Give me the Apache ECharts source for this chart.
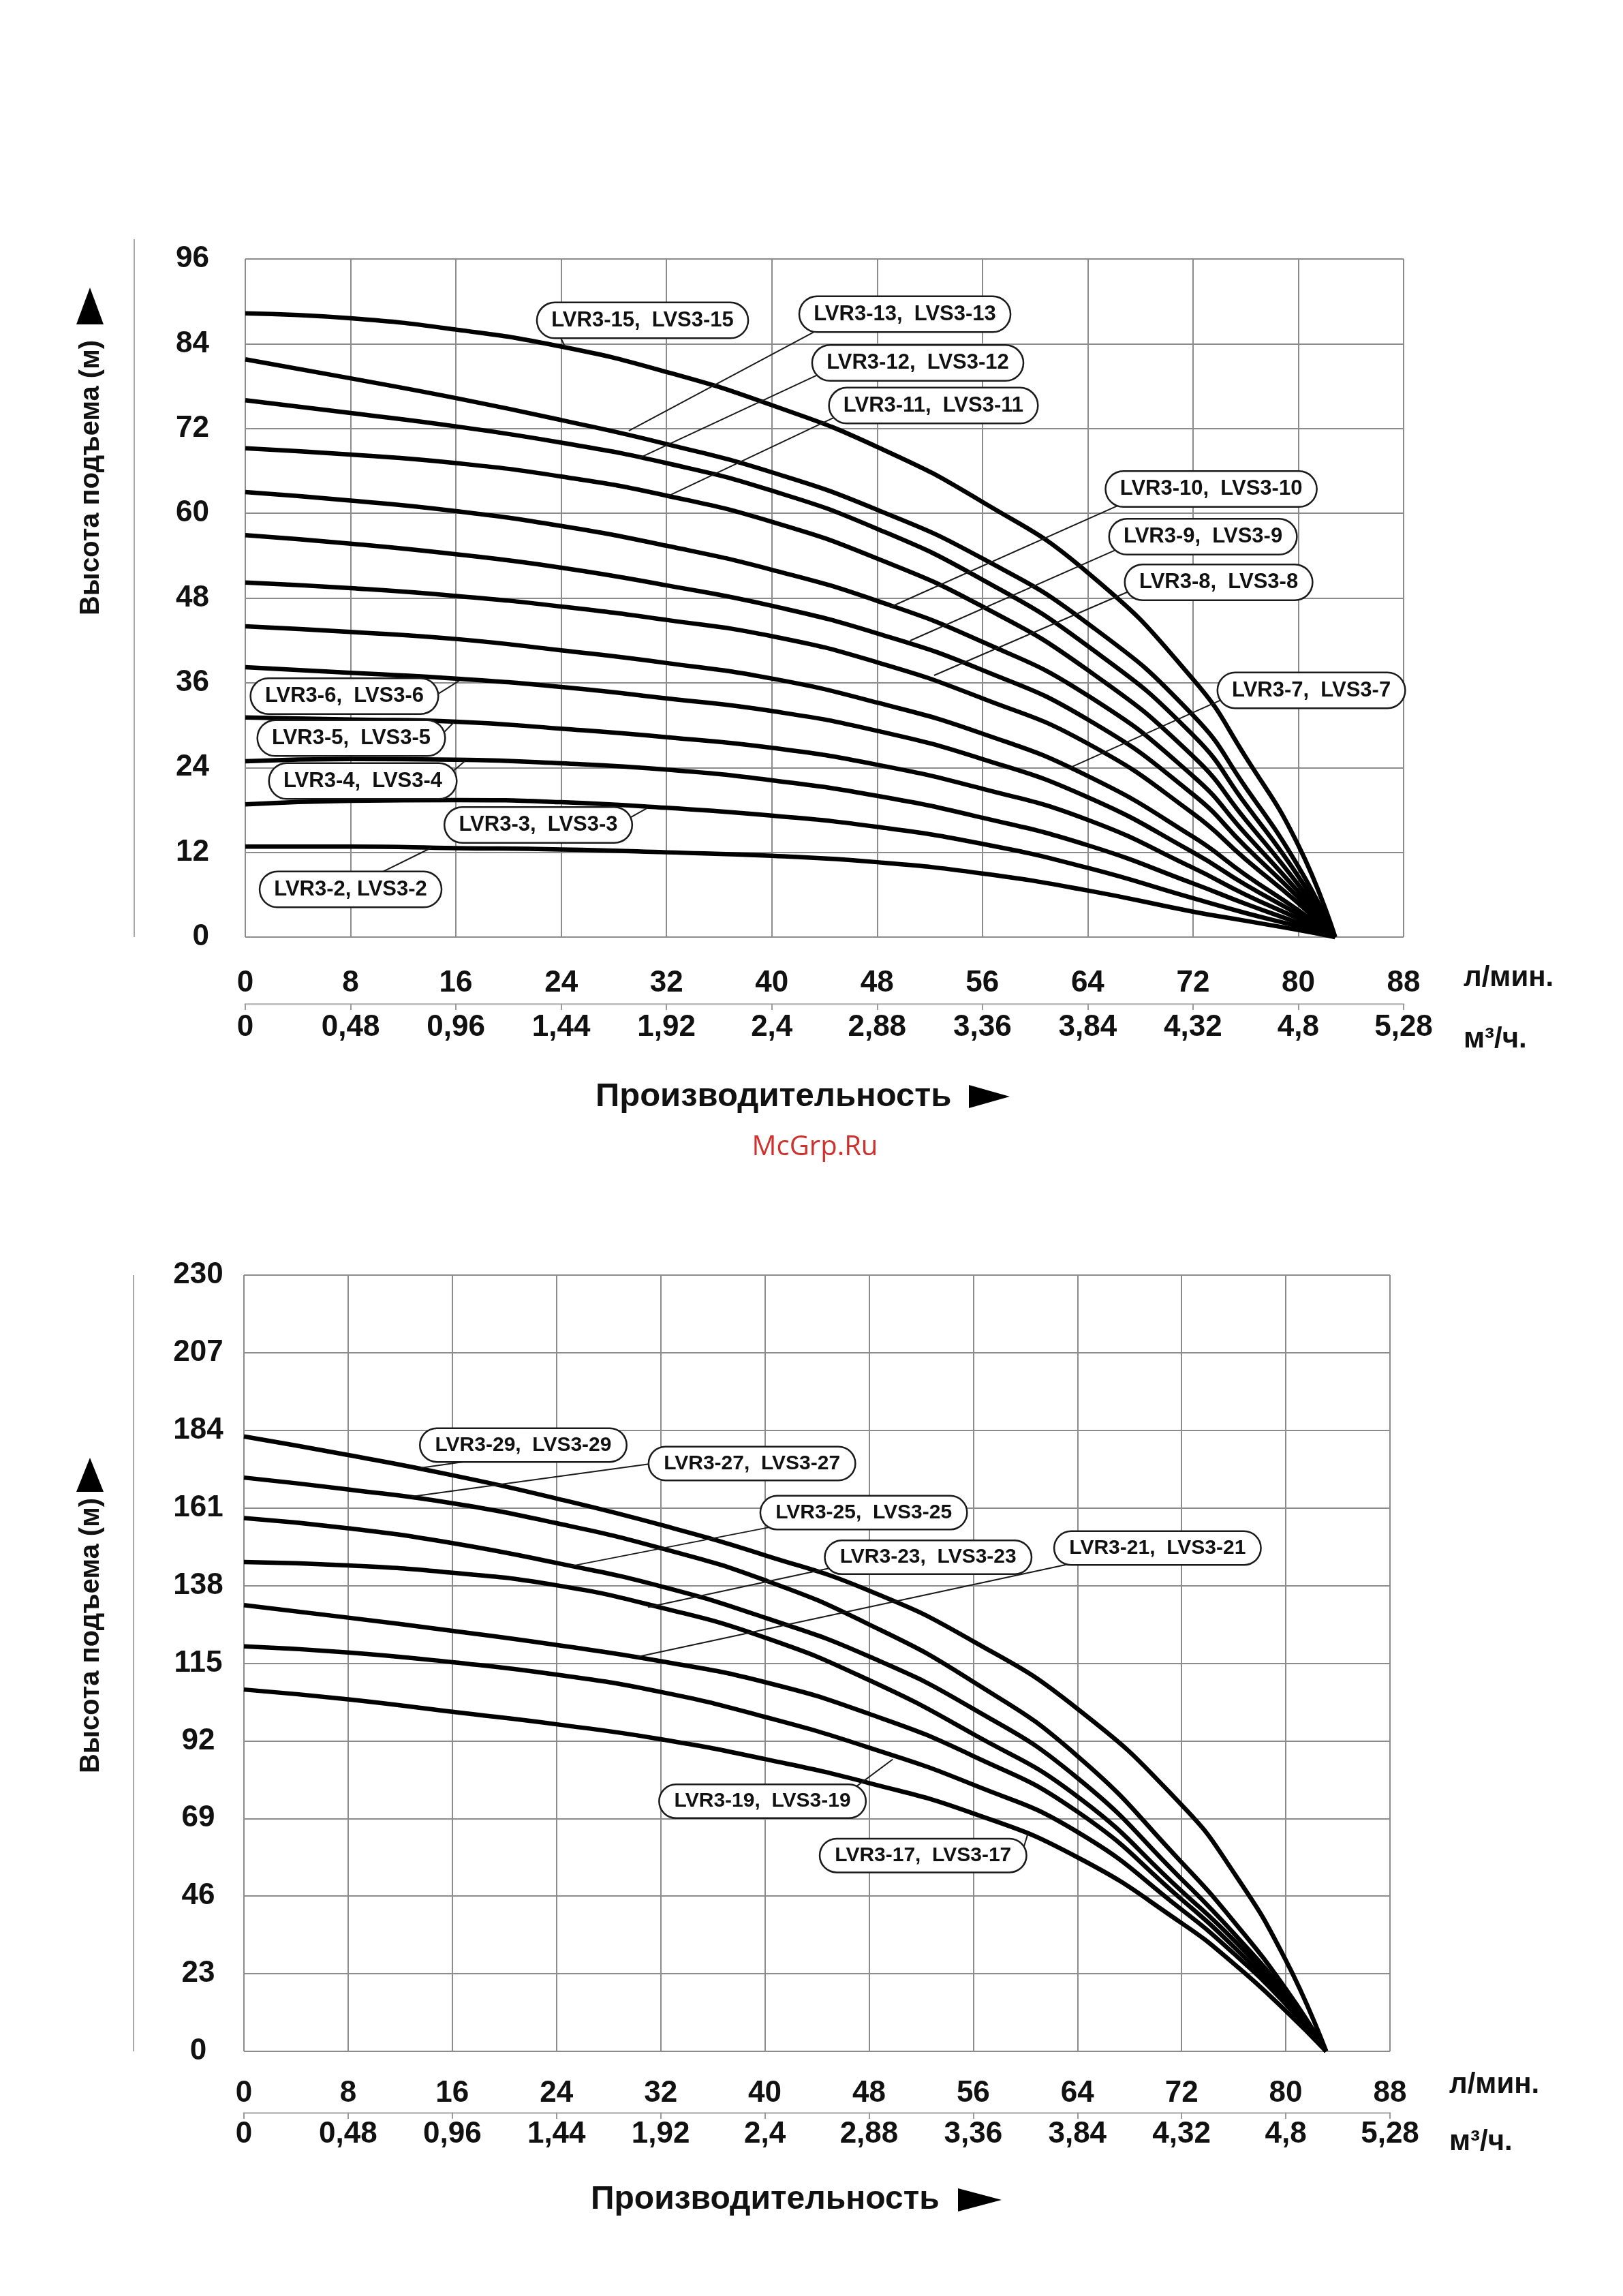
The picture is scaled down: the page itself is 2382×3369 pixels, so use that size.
<!DOCTYPE html>
<html><head><meta charset="utf-8">
<script src="https://cdn.jsdelivr.net/npm/echarts@6/dist/echarts.min.js"></script>
<style>html,body{margin:0;padding:0;background:#fff}#c{width:2382px;height:3369px}</style>
</head><body><div id="c"></div>
<script>
const FONT = '"Liberation Sans", Arial, Helvetica, sans-serif';

// ---------- tick labels ----------
const X_TICKS_LMIN = [0, 8, 16, 24, 32, 40, 48, 56, 64, 72, 80, 88];
const X_TICKS_M3H = ['0', '0,48', '0,96', '1,44', '1,92', '2,4', '2,88', '3,36', '3,84', '4,32', '4,8', '5,28'];
const Y_TICKS_TOP = [0, 12, 24, 36, 48, 60, 72, 84, 96];
const Y_TICKS_BOT = [0, 23, 46, 69, 92, 115, 138, 161, 184, 207, 230];

// ---------- top chart data (Q l/min -> H m) ----------
const Q_TOP = [0, 8, 16, 24, 32, 40, 48, 56, 64, 72, 76, 80, 82.8];
const H_3_2  = [12.8, 12.8, 12.6, 12.4, 12.0, 11.5, 10.6, 9.0, 6.6, 3.6, 2.3, 1.0, 0];
const H_3_3  = [18.8, 19.3, 19.4, 19.1, 18.3, 17.2, 15.6, 13.2, 9.8, 5.5, 3.4, 1.5, 0];
const H_3_4  = [24.9, 25.2, 25.1, 24.6, 23.7, 22.2, 20.0, 16.9, 13.0, 7.6, 4.7, 2.0, 0];
const H_3_5  = [31.1, 30.8, 30.5, 29.5, 28.3, 26.8, 24.4, 21.0, 16.6, 9.8, 6.0, 2.6, 0];
const H_3_6  = [38.2, 37.4, 36.6, 35.4, 33.8, 32.0, 29.2, 25.2, 19.8, 12.0, 7.4, 3.2, 0];
const H_3_7  = [44.0, 43.2, 42.2, 40.6, 38.8, 36.6, 33.2, 28.8, 22.8, 14.2, 8.8, 3.8, 0];
const H_3_8  = [50.2, 49.4, 48.3, 46.8, 44.9, 42.6, 38.9, 33.8, 27.4, 17.5, 11.0, 4.8, 0];
const H_3_9  = [56.9, 55.7, 54.2, 52.3, 49.8, 46.9, 43.0, 37.8, 30.8, 20.2, 12.8, 5.6, 0];
const H_3_10 = [63.0, 61.8, 60.3, 58.2, 55.4, 52.0, 47.6, 41.8, 34.2, 22.8, 14.6, 6.4, 0];
const H_3_11 = [69.2, 68.3, 67.1, 65.2, 62.5, 58.8, 53.6, 46.8, 37.8, 25.6, 16.6, 7.4, 0];
const H_3_12 = [76.0, 74.2, 72.3, 70.0, 67.1, 63.2, 57.8, 50.6, 41.2, 28.6, 18.8, 8.6, 0];
const H_3_13 = [81.8, 79.1, 76.3, 73.2, 69.8, 65.8, 60.5, 53.6, 44.4, 31.4, 21.2, 10.0, 0];
const H_3_15 = [88.3, 87.6, 86.0, 83.6, 80.0, 75.3, 69.4, 61.6, 51.6, 36.5, 25.5, 13.0, 0];
const TOP_CURVES = [H_3_2, H_3_3, H_3_4, H_3_5, H_3_6, H_3_7, H_3_8, H_3_9, H_3_10, H_3_11, H_3_12, H_3_13, H_3_15];

// ---------- bottom chart data ----------
const Q_BOT = [0, 8, 16, 24, 32, 40, 48, 56, 64, 72, 76, 80, 83.1];
const H_3_17 = [107.2, 104.3, 100.6, 96.9, 92.5, 86.6, 79.5, 70.5, 57.5, 38.0, 26.0, 12.0, 0];
const H_3_19 = [120.0, 118.2, 115.3, 111.6, 106.5, 99.1, 90.0, 79.0, 65.0, 42.0, 29.0, 14.0, 0];
const H_3_21 = [132.2, 128.5, 124.6, 120.4, 115.6, 109.4, 100.0, 87.5, 71.0, 45.0, 31.0, 15.0, 0];
const H_3_23 = [145.0, 144.0, 141.8, 138.1, 131.5, 122.6, 110.0, 94.0, 75.5, 47.5, 33.0, 16.0, 0];
const H_3_25 = [158.0, 155.0, 150.6, 144.7, 137.8, 128.5, 117.0, 101.5, 81.0, 51.0, 35.0, 17.0, 0];
const H_3_27 = [170.0, 166.5, 162.4, 156.5, 149.1, 139.6, 126.5, 109.5, 87.5, 56.0, 38.5, 18.5, 0];
const H_3_29 = [182.2, 176.7, 170.7, 163.8, 156.0, 147.0, 136.5, 121.5, 101.5, 73.0, 53.0, 27.0, 0];
const BOT_CURVES = [H_3_17, H_3_19, H_3_21, H_3_23, H_3_25, H_3_27, H_3_29];

// ---------- callout labels: text, box centre, box-edge point, curve point (data coords) ----------
const TOP_LABELS = [
  ['LVR3-15,  LVS3-15', [30.18, 87.31], [23.97, 84.80], [24.28, 83.65]],
  ['LVR3-13,  LVS3-13', [50.11, 88.18], [43.22, 85.67], [29.14, 71.68]],
  ['LVR3-12,  LVS3-12', [51.09, 81.28], [43.38, 79.50], [29.92, 67.82]],
  ['LVR3-11,  LVS3-11', [52.28, 75.25], [44.57, 73.42], [32.09, 62.42]],
  ['LVR3-10,  LVS3-10', [73.38, 63.43], [66.16, 60.97], [48.97, 46.70]],
  ['LVR3-9,  LVS3-9',   [72.76, 56.68], [66.00, 54.70], [50.52, 41.97]],
  ['LVR3-8,  LVS3-8',   [73.95, 50.22], [66.98, 48.82], [52.33, 37.05]],
  ['LVR3-7,  LVS3-7',   [80.99, 34.93], [74.13, 33.57], [62.69, 24.02]],
  ['LVR3-6,  LVS3-6',   [7.53, 34.11],  [14.75, 34.54], [16.25, 36.28]],
  ['LVR3-5,  LVS3-5',   [8.05, 28.17],  [15.22, 29.23], [15.84, 30.39]],
  ['LVR3-4,  LVS3-4',   [8.93, 22.09],  [16.00, 23.83], [16.67, 24.89]],
  ['LVR3-3,  LVS3-3',   [22.26, 15.87], [29.30, 16.98], [30.59, 18.33]],
  ['LVR3-2, LVS3-2',    [8.00, 6.75],   [10.46, 9.26],  [14.13, 12.64]]
];
const BOT_LABELS = [
  ['LVR3-29,  LVS3-29', [21.45, 179.64], [17.22, 174.89], [13.55, 172.87]],
  ['LVR3-27,  LVS3-27', [39.01, 174.18], [31.03, 173.98], [12.87, 164.38]],
  ['LVR3-25,  LVS3-25', [47.59, 159.62], [40.08, 155.07], [25.07, 143.75]],
  ['LVR3-23,  LVS3-23', [52.54, 146.38], [44.69, 142.94], [31.03, 131.60]],
  ['LVR3-21,  LVS3-21', [70.15, 149.11], [63.06, 144.16], [30.19, 116.86]],
  ['LVR3-19,  LVS3-19', [39.82, 74.10],  [47.15, 78.85],  [49.82, 86.53]],
  ['LVR3-17,  LVS3-17', [52.15, 58.03],  [60.02, 62.27],  [60.18, 64.29]]
];

const chart = echarts.init(document.getElementById('c'), null, {renderer: 'canvas', width: 2382, height: 3369});

const GRID_LINE = {show: true, lineStyle: {color: '#8c8c8c', width: 2}};
const TICK_FONT = {fontSize: 44, fontWeight: 'bold', color: '#111', fontFamily: FONT, showMinLabel: true, showMaxLabel: true};

function xAxes(gi, m1, off, m2) {
  return [
    {gridIndex: gi, type: 'value', min: X_TICKS_LMIN[0], max: X_TICKS_LMIN[X_TICKS_LMIN.length - 1], interval: 8,
     position: 'bottom', axisLine: {show: false}, axisTick: {show: false}, splitLine: GRID_LINE,
     axisLabel: Object.assign({margin: m1, formatter: v => String(v)}, TICK_FONT)},
    {gridIndex: gi, type: 'value', min: X_TICKS_LMIN[0], max: X_TICKS_LMIN[X_TICKS_LMIN.length - 1], interval: 8,
     position: 'bottom', offset: off,
     axisLine: {show: true, lineStyle: {color: '#c4c4c4', width: 3}},
     axisTick: {show: true, length: 9, lineStyle: {color: '#9a9a9a', width: 2}},
     splitLine: {show: false},
     axisLabel: Object.assign({margin: m2, formatter: v => X_TICKS_M3H[Math.round(v / 8)]}, TICK_FONT)}
  ];
}

const base = {
  animation: false,
  backgroundColor: '#fff',
  grid: [
    {left: 360, top: 380, width: 1700, height: 995},
    {left: 358, top: 1871, width: 1682, height: 1139}
  ],
  xAxis: [].concat(xAxes(0, 46, 98, 13), xAxes(1, 40, 90, 10)),
  yAxis: [
    {gridIndex: 0, type: 'value', min: Y_TICKS_TOP[0], max: Y_TICKS_TOP[Y_TICKS_TOP.length - 1], interval: 12,
     axisLine: {show: false}, axisTick: {show: false}, splitLine: GRID_LINE,
     axisLabel: Object.assign({margin: 53}, TICK_FONT)},
    {gridIndex: 1, type: 'value', min: Y_TICKS_BOT[0], max: Y_TICKS_BOT[Y_TICKS_BOT.length - 1], interval: 23,
     axisLine: {show: false}, axisTick: {show: false}, splitLine: GRID_LINE,
     axisLabel: Object.assign({margin: 67, align: 'center'}, TICK_FONT)}
  ],
  series: []
};
chart.setOption(base);

function curveSeries(qs, hs, xi, yi) {
  return {type: 'line', xAxisIndex: xi, yAxisIndex: yi, data: qs.map((q, i) => [q, hs[i]]),
    showSymbol: false, symbol: 'none', smooth: 0.5, clip: false,
    lineStyle: {color: '#000', width: 6.5, join: 'round'}, z: 2, silent: true};
}

function leaderSeries(labels, gi, xi, yi) {
  const data = labels.map(l => {
    const c = chart.convertToPixel({gridIndex: gi}, l[3]);
    const e = chart.convertToPixel({gridIndex: gi}, l[2]);
    const dx = e[0] - c[0], dy = e[1] - c[1], len = Math.hypot(dx, dy) || 1;
    const ext = chart.convertFromPixel({gridIndex: gi}, [e[0] + dx / len * 14, e[1] + dy / len * 14]);
    return [{coord: l[3]}, {coord: ext}];
  });
  return {type: 'line', xAxisIndex: xi, yAxisIndex: yi, data: [], z: 3, silent: true,
    markLine: {silent: true, symbol: ['none', 'none'], animation: false, label: {show: false},
      lineStyle: {color: '#1a1a1a', width: 2, type: 'solid'}, emphasis: {disabled: true}, data: data}};
}

function boxSeries(labels, xi, yi, fs, pad) {
  return {type: 'line', xAxisIndex: xi, yAxisIndex: yi, data: [], z: 5, silent: true,
    markPoint: {silent: true, symbol: 'rect', symbolSize: 1, itemStyle: {color: 'rgba(0,0,0,0)'}, animation: false,
      label: {show: true, position: 'inside', formatter: '{b}', fontSize: fs, lineHeight: fs + 2, fontWeight: 'bold',
        fontFamily: FONT, color: '#111', backgroundColor: '#fff', borderColor: '#1a1a1a', borderWidth: 2.5,
        borderRadius: 26, padding: pad},
      data: labels.map(l => ({name: l[0], coord: l[1]}))}};
}

const series = [];
TOP_CURVES.forEach(h => series.push(curveSeries(Q_TOP, h, 0, 0)));
BOT_CURVES.forEach(h => series.push(curveSeries(Q_BOT, h, 2, 1)));
series.push(leaderSeries(TOP_LABELS, 0, 0, 0));
series.push(leaderSeries(BOT_LABELS, 1, 2, 1));
series.push(boxSeries(TOP_LABELS, 0, 0, 31, [9, 20, 8, 20]));
series.push(boxSeries(BOT_LABELS, 2, 1, 30, [8, 21, 7, 21]));

function txt(x, y, text, size, opts) {
  return Object.assign({type: 'text', x: x, y: y, silent: true, z: 10,
    style: Object.assign({text: text, font: 'bold ' + size + 'px ' + FONT, fill: '#111',
      textAlign: 'left', textVerticalAlign: 'middle', align: 'left', verticalAlign: 'middle'}, (opts && opts.style) || {})},
    (opts && opts.el) || {});
}
function tri(points) { return {type: 'polygon', silent: true, z: 10, shape: {points: points}, style: {fill: '#000'}}; }

const graphic = [
  {type: 'line', silent: true, shape: {x1: 197, y1: 351, x2: 197, y2: 1375}, style: {stroke: '#a8a8a8', lineWidth: 2}},
  {type: 'line', silent: true, shape: {x1: 196, y1: 1871, x2: 196, y2: 3010}, style: {stroke: '#a8a8a8', lineWidth: 2}},
  // y titles
  txt(134, 701, 'Высота подъема (м)', 40, {style: {textAlign: 'center', align: 'center'}, el: {rotation: Math.PI / 2}}),
  tri([[132, 422], [152, 476], [112, 476]]),
  txt(134, 2400, 'Высота подъема (м)', 40, {style: {textAlign: 'center', align: 'center'}, el: {rotation: Math.PI / 2}}),
  tri([[132, 2139], [152, 2189], [112, 2189]]),
  // x titles
  txt(874, 1609, 'Производительность', 49),
  tri([[1422, 1592], [1482, 1609], [1422, 1626]]),
  txt(867, 3228, 'Производительность', 48),
  tri([[1406, 3211], [1470, 3228], [1406, 3245]]),
  // units
  txt(2148, 1435, 'л/мин.', 42),
  txt(2148, 1525, 'м³/ч.', 42),
  txt(2127, 3059, 'л/мин.', 42),
  txt(2127, 3143, 'м³/ч.', 42),
  // watermark
  {type: 'text', x: 1196, y: 1684, silent: true, z: 10,
   style: {text: 'McGrp.Ru', font: '40px "Open Sans", "Noto Sans", sans-serif', fill: '#d0312d',
     textAlign: 'center', textVerticalAlign: 'middle', align: 'center', verticalAlign: 'middle'}}
];

chart.setOption({series: series, graphic: graphic});
</script></body></html>
